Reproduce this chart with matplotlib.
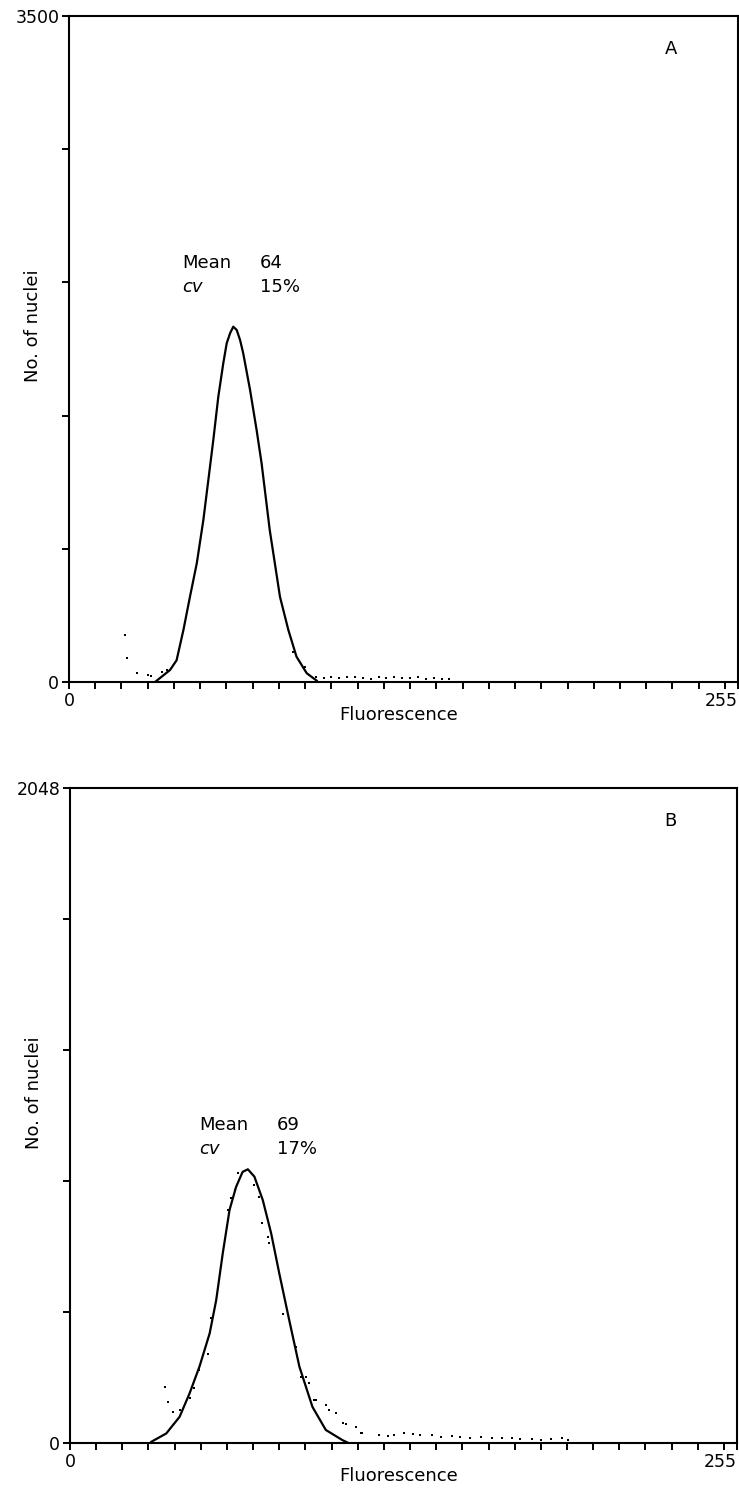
import numpy as np
import matplotlib
matplotlib.use("Agg")
import matplotlib.pyplot as plt

curve_a_x = [32.8, 38.5, 41.0, 43.6, 46.1, 48.7, 51.2, 53.1, 55.0, 56.9, 58.8, 60.1, 61.4,
             62.6, 63.9, 65.2, 66.4, 69.0, 71.5, 73.4, 76.5, 80.4, 83.6, 86.7, 90.6, 94.4]
curve_a_y = [0, 63, 114, 273, 448, 624, 851, 1061, 1272, 1499, 1675, 1780, 1833,
             1867, 1850, 1797, 1727, 1535, 1324, 1149, 799, 448, 273, 133, 46, 7]
dots_a_x = [21.3, 22.0, 25.8, 30.2, 31.4, 35.3, 37.2, 85.5, 90.0,
            94, 97, 100, 103, 106, 109, 112, 115, 118, 121, 124, 127, 130, 133, 136, 139, 142, 145]
dots_a_y = [247, 128, 46, 37, 33, 54, 62, 157, 79,
            25, 22, 27, 20, 24, 28, 22, 18, 25, 21, 24, 19, 22, 26, 18, 20, 17, 15]

# panel B
curve_b_x = [31.1, 36.8, 41.9, 45.7, 49.5, 53.4, 55.9, 58.4, 61.0, 63.5, 66.0, 68.0,
             70.5, 73.7, 76.9, 80.0, 83.8, 87.7, 92.7, 97.8, 104.2, 106.0]
curve_b_y = [4, 30, 82, 155, 239, 343, 447, 593, 729, 801, 848, 856,
             833, 760, 656, 531, 385, 239, 113, 41, 9, 2]
dots_b_x = [36.2, 37.5, 39.4, 41.9, 45.7, 47.6, 49.5, 52.7, 54.0, 60.3, 61.6, 62.9, 64.1,
            70.5, 72.4, 73.4, 75.6, 76.2, 81.6, 86.4, 88.3, 90.2, 91.5, 93.4, 94.0, 97.8,
            99.1, 101.6, 104.2, 105.4, 109.3, 111.2, 111.8, 118.1, 121.5, 124.0, 127.7,
            131.0, 134.0, 138.5, 142.0, 146.0, 149.0, 153.0, 157.0, 161.3, 165.0, 168.9,
            172.0, 176.6, 180.0, 184.0, 188.0, 190.5]
dots_b_y = [176, 129, 98, 103, 140, 171, 228, 280, 390, 729, 765, 790, 843,
            807, 770, 689, 645, 626, 405, 301, 207, 207, 187, 134, 134, 119,
            103, 95, 62, 59, 51, 30, 30, 25, 22, 25, 30,
            27, 25, 25, 18, 22, 18, 15, 18, 15, 15, 15,
            12, 12, 10, 12, 15, 9]

panels = [
    dict(ymax=3500, cx=curve_a_x, cy=curve_a_y, dx=dots_a_x, dy=dots_a_y,
         letter="A", mean="64", cv="15%", tx=(43.1, 72.8), ty=(2176, 2051),
         rect=[0.0934, 0.5423, 0.9053, 0.447]),
    dict(ymax=2048, cx=curve_b_x, cy=curve_b_y, dx=dots_b_x, dy=dots_b_y,
         letter="B", mean="69", cv="17%", tx=(49.4, 79.0), ty=(979, 904),
         rect=[0.0947, 0.0315, 0.9026, 0.4396]),
]

fig = plt.figure(figsize=(7.39, 14.9), dpi=100)

for p in panels:
    ax = fig.add_axes(p["rect"])
    ax.plot(p["cx"], p["cy"], color="k", lw=1.6)
    ax.plot(p["dx"], p["dy"], "s", ms=1.6, color="k", mew=0)
    ax.set_xlim(0, 255)
    ax.set_ylim(0, p["ymax"])

    for s in ax.spines.values():
        s.set_linewidth(1.5)

    ax.set_xticks([0, 255])
    ax.set_xticklabels(["0", "255"])
    ax.set_xticks(np.arange(10, 251, 10), minor=True)
    ax.set_yticks([0, p["ymax"]])
    ax.set_yticklabels(["0", str(p["ymax"])])
    ax.set_yticks(np.linspace(0, p["ymax"], 6)[1:-1], minor=True)
    ax.tick_params(which="both", direction="out", length=5, width=1.4,
                   labelsize=12.5, pad=2)
    ax.get_xticklabels()[1].set_horizontalalignment("right")

    ax.text(0.492, -0.05, "Fluorescence", transform=ax.transAxes,
            ha="center", va="center", fontsize=13)
    ax.text(-0.054, 0.535, "No. of nuclei", transform=ax.transAxes,
            ha="center", va="center", rotation=90, fontsize=13)

    ax.text(p["tx"][0], p["ty"][0], "Mean", fontsize=13, va="baseline")
    ax.text(p["tx"][1], p["ty"][0], p["mean"], fontsize=13, va="baseline")
    ax.text(p["tx"][0], p["ty"][1], "cv", fontsize=13, va="baseline", style="italic")
    ax.text(p["tx"][1], p["ty"][1], p["cv"], fontsize=13, va="baseline")
    ax.text(0.9, 0.95, p["letter"], transform=ax.transAxes,
            ha="center", va="center", fontsize=13)

fig.savefig("out.png", dpi=100)
